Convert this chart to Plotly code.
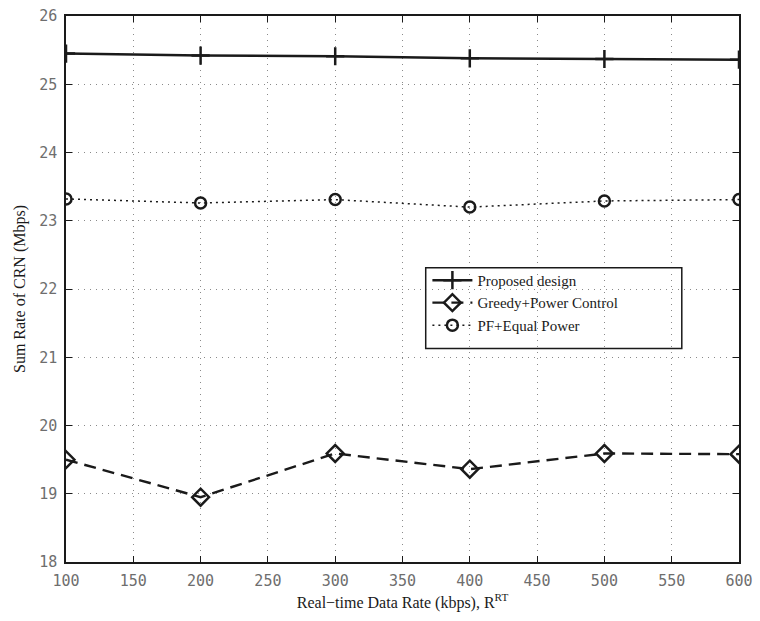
import plotly.graph_objects as go

x_vals = [100, 200, 300, 400, 500, 600]
proposed = [25.45, 25.42, 25.41, 25.38, 25.37, 25.36]
greedy = [19.50, 18.95, 19.59, 19.36, 19.59, 19.58]
pf_equal = [23.32, 23.26, 23.31, 23.20, 23.29, 23.31]

ink = "#1a1a1a"
fig = go.Figure()
fig.add_trace(go.Scatter(x=x_vals, y=proposed, mode="lines+markers", name="Proposed design",
                         line=dict(color=ink, width=2.5),
                         marker=dict(symbol="cross-thin-open", size=13, line=dict(color=ink, width=2.5))))
fig.add_trace(go.Scatter(x=x_vals, y=greedy, mode="lines+markers", name="Greedy+Power Control",
                         line=dict(color=ink, width=2.4, dash="12px,7px"),
                         marker=dict(symbol="diamond-open", size=13, color=ink, line=dict(color=ink, width=2.5))))
fig.add_trace(go.Scatter(x=x_vals, y=pf_equal, mode="lines+markers", name="PF+Equal Power",
                         line=dict(color=ink, width=1.5, dash="2px,4px"),
                         marker=dict(symbol="circle-open", size=11, color=ink, line=dict(color=ink, width=2.5))))

axis_common = dict(showline=True, linecolor=ink, linewidth=1.5, mirror="ticks",
                   ticks="inside", ticklen=6, tickcolor=ink,
                   showgrid=True, gridcolor="#8a8a8a", griddash="1px,5px", gridwidth=1,
                   zeroline=False, ticklabeloverflow="allow", ticklabelstandoff=4,
                   tickfont=dict(family="DejaVu Sans Mono", size=15, color="#6e6e6e"))

fig.update_xaxes(range=[100, 600], dtick=50, tick0=100,
                 title=dict(text="Real\u2212time Data Rate (kbps), R<sup>RT</sup>",
                            font=dict(family="Liberation Serif", size=16, color=ink), standoff=8),
                 **axis_common)
fig.update_yaxes(range=[18, 26], dtick=1,
                 title=dict(text="Sum Rate of CRN (Mbps)",
                            font=dict(family="Liberation Serif", size=16, color=ink), standoff=10),
                 **axis_common)

# legend frame
fig.add_shape(type="rect", xref="paper", yref="paper",
              x0=0.5345, x1=0.915, y0=0.391, y1=0.5387,
              line=dict(color=ink, width=1.5), fillcolor="white", layer="below")

fig.update_layout(width=760, height=621, margin=dict(l=66, r=13, t=7, b=59),
                  plot_bgcolor="white", paper_bgcolor="white",
                  legend=dict(x=0.537, y=0.546, xanchor="left", yanchor="top",
                              bgcolor="rgba(0,0,0,0)", borderwidth=0,
                              font=dict(family="Liberation Serif", size=15, color=ink),
                              itemwidth=40))

fig.write_html("out.html")
